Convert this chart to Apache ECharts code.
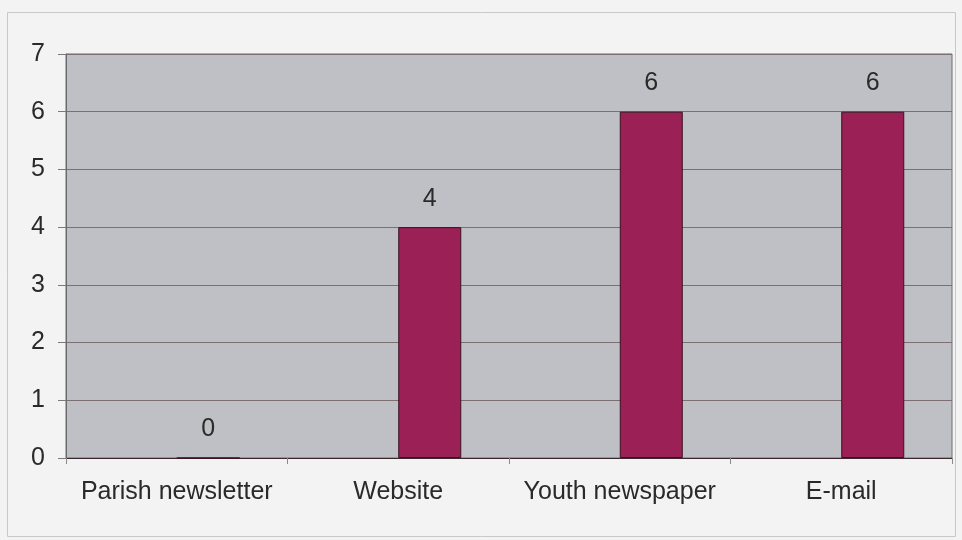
<!DOCTYPE html>
<html><head><meta charset="utf-8">
<script src="https://cdn.jsdelivr.net/npm/echarts@6/dist/echarts.min.js"></script>
<style>html,body{margin:0;padding:0;background:#f2f2f2}#c{width:962px;height:540px}</style>
</head><body><div id="c"></div>
<script>
const categories = ['Parish newsletter', 'Website', 'Youth newspaper', 'E-mail'];
const emptySeries = [null, null, null, null];
const values = [0, 4, 6, 6];
const yTicks = [0, 1, 2, 3, 4, 5, 6, 7];

const chart = echarts.init(document.getElementById('c'));
chart.setOption({
  backgroundColor: '#f3f3f3',
  animation: false,
  graphic: [{
    type: 'rect', shape: {x: 7.5, y: 12.5, width: 948, height: 524},
    style: {fill: 'none', stroke: '#c8c8c8', lineWidth: 1}, z: -1
  }],
  grid: {left: 66, top: 54, right: 10, bottom: 82, show: true,
    backgroundColor: '#bfc0c5', borderColor: '#6a6a6e', borderWidth: 1},
  xAxis: {
    type: 'category', data: categories,
    axisLine: {lineStyle: {color: '#3a2a30', width: 1}},
    axisTick: {show: true, length: 6, interval: 0, lineStyle: {color: '#8a8a8a'}},
    axisLabel: {interval: 0, hideOverlap: false, fontFamily: 'Liberation Sans', fontSize: 25,
      color: '#2a2a2a', margin: 22}
  },
  yAxis: {
    type: 'value', min: 0, max: 7, interval: 1,
    axisLine: {show: true, lineStyle: {color: '#6a6a6e'}},
    axisTick: {show: true, length: 8, lineStyle: {color: '#7a7a7a'}},
    splitLine: {lineStyle: {color: '#7d6e72', width: 1}},
    axisLabel: {fontFamily: 'Liberation Sans', fontSize: 25, color: '#2a2a2a', margin: 21,
      formatter: v => yTicks.includes(v) ? String(v) : ''}
  },
  series: [
    {type: 'bar', data: emptySeries, barWidth: 63, barGap: '0%'},
    {type: 'bar', data: values, barWidth: 63, barGap: '0%',
      itemStyle: {color: '#9b2055', borderColor: '#3a1020', borderWidth: 1},
      label: {show: true, position: 'top', distance: 16, fontFamily: 'Liberation Sans',
        fontSize: 25, color: '#2a2a2a'}}
  ]
});
</script></body></html>
